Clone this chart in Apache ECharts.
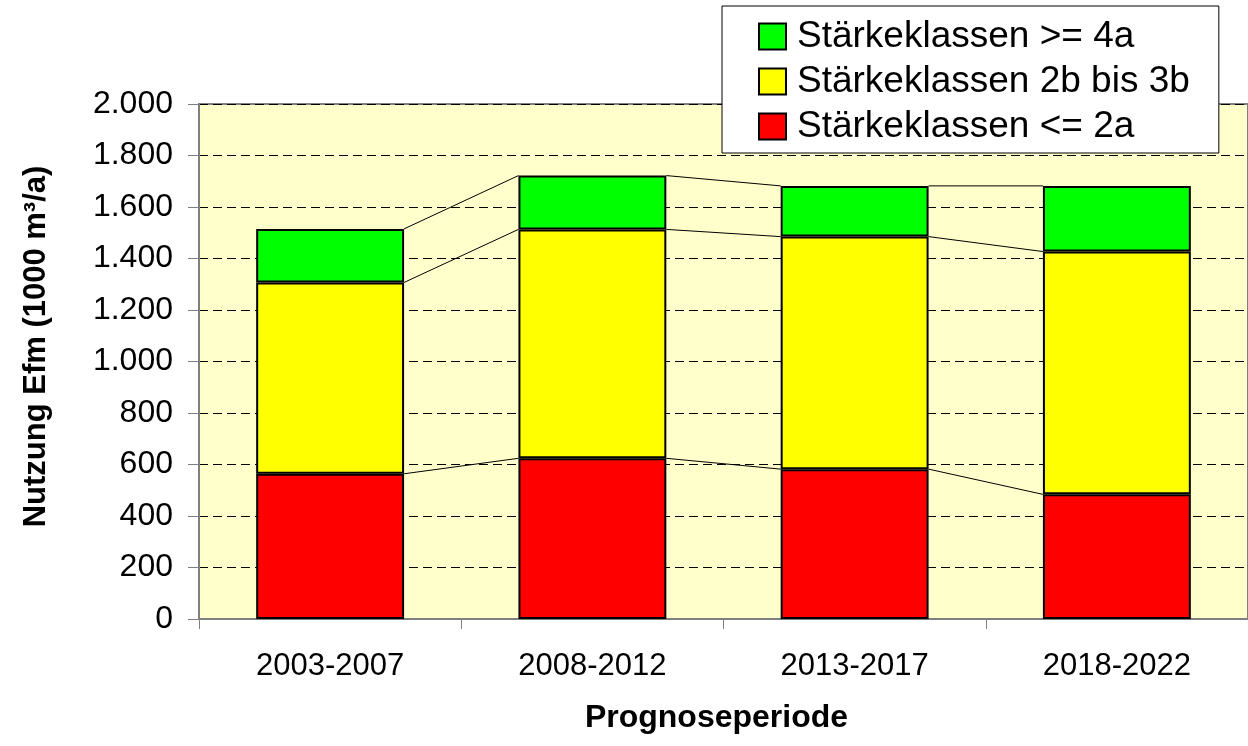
<!DOCTYPE html>
<html>
<head>
<meta charset="utf-8">
<script src="https://cdn.jsdelivr.net/npm/echarts@6/dist/echarts.min.js"></script>
<style>
html,body{margin:0;padding:0;background:#fff;}
#chart{width:1248px;height:746px;}
</style>
</head>
<body>
<div id="chart"></div>
<script>
const categories = ['2003-2007', '2008-2012', '2013-2017', '2018-2022'];
const seriesNames = ['Stärkeklassen <= 2a', 'Stärkeklassen 2b bis 3b', 'Stärkeklassen >= 4a'];
const redValues = [564, 624, 582, 484];
const yellowValues = [743, 889, 903, 943];
const greenValues = [208, 209, 197, 255];
const yTicks = [0, 200, 400, 600, 800, 1000, 1200, 1400, 1600, 1800, 2000];

const BAR_FRAC = 0.564;
const FONT = '"Liberation Sans", Arial, sans-serif';

// cumulative tops for the Excel-style series lines
const cumRed = redValues.slice();
const cumYellow = redValues.map((v, i) => v + yellowValues[i]);
const cumGreen = cumYellow.map((v, i) => v + greenValues[i]);
const seriesLineData = categories.slice(0, -1).map((c, i) => [i, cumRed[i], cumYellow[i], cumGreen[i], cumRed[i+1], cumYellow[i+1], cumGreen[i+1]]);

function fmt(v) {
  if (v >= 1000) return Math.floor(v / 1000) + '.' + String(v % 1000).padStart(3, '0');
  return String(v);
}

const chart = echarts.init(document.getElementById('chart'), null, {renderer: 'canvas'});
const barStyle = (color) => ({color: color, borderColor: '#000', borderWidth: 2});

chart.setOption({
  animation: false,
  textStyle: {fontFamily: FONT},
  grid: {
    left: 199, right: 0, top: 104, bottom: 127,
    show: true, backgroundColor: '#FFFFCC', borderColor: '#808080', borderWidth: 2
  },
  legend: {
    orient: 'vertical',
    left: 722, top: 6,
    padding: [12, 29, 8, 36],
    backgroundColor: '#fff',
    borderColor: '#000', borderWidth: 1,
    itemWidth: 27, itemHeight: 26, itemGap: 8,
    icon: 'rect',
    itemStyle: {borderColor: '#000', borderWidth: 2},
    textStyle: {fontFamily: FONT, fontSize: 37, color: '#000', padding: [0, 0, 0, 6]},
    data: [seriesNames[2], seriesNames[1], seriesNames[0]]
  },
  xAxis: {
    type: 'category',
    data: categories,
    name: 'Prognoseperiode',
    nameLocation: 'middle',
    nameGap: 83,
    nameTextStyle: {fontFamily: FONT, fontSize: 32, fontWeight: 'bold', color: '#000', padding: [0, 14, 0, 0]},
    axisLine: {lineStyle: {color: '#808080', width: 2}},
    axisTick: {show: true, length: 10, lineStyle: {color: '#808080', width: 1}},
    axisLabel: {fontFamily: FONT, fontSize: 31, color: '#000', margin: 32},
    splitLine: {show: false}
  },
  yAxis: {
    type: 'value',
    min: 0, max: 2000, interval: 200,
    name: 'Nutzung Efm (1000 m³/a)',
    nameLocation: 'middle',
    nameGap: 147,
    nameTextStyle: {fontFamily: FONT, fontSize: 31, fontWeight: 'bold', color: '#000', padding: [0, 0, 0, 30]},
    axisLine: {show: true, lineStyle: {color: '#808080', width: 2}},
    axisTick: {show: true, length: 11, lineStyle: {color: '#808080', width: 1}},
    axisLabel: {fontFamily: FONT, fontSize: 32, color: '#000', margin: 26, formatter: fmt},
    splitLine: {show: true, lineStyle: {color: '#000', type: [9, 5], width: 1}}
  },
  series: [
    {name: seriesNames[0], type: 'bar', stack: 'a', barWidth: (BAR_FRAC * 100) + '%', data: redValues, itemStyle: barStyle('#FF0000')},
    {name: seriesNames[1], type: 'bar', stack: 'a', data: yellowValues, itemStyle: barStyle('#FFFF00')},
    {name: seriesNames[2], type: 'bar', stack: 'a', data: greenValues, itemStyle: barStyle('#00FF00')},
    {
      type: 'custom',
      silent: true,
      z: 5,
      data: seriesLineData,
      encode: {x: 0, y: [1, 2, 3]},
      renderItem: function (params, api) {
        const i = api.value(0);
        const band = api.size([1, 0])[0];
        const half = band * BAR_FRAC / 2;
        const children = [];
        for (let k = 0; k < 3; k++) {
          const p1 = api.coord([i, api.value(1 + k)]);
          const p2 = api.coord([i + 1, api.value(4 + k)]);
          children.push({
            type: 'line',
            shape: {x1: p1[0] + half, y1: p1[1], x2: p2[0] - half, y2: p2[1]},
            style: {stroke: '#000', lineWidth: 1}
          });
        }
        return {type: 'group', children: children};
      }
    }
  ]
});
</script>
</body>
</html>
